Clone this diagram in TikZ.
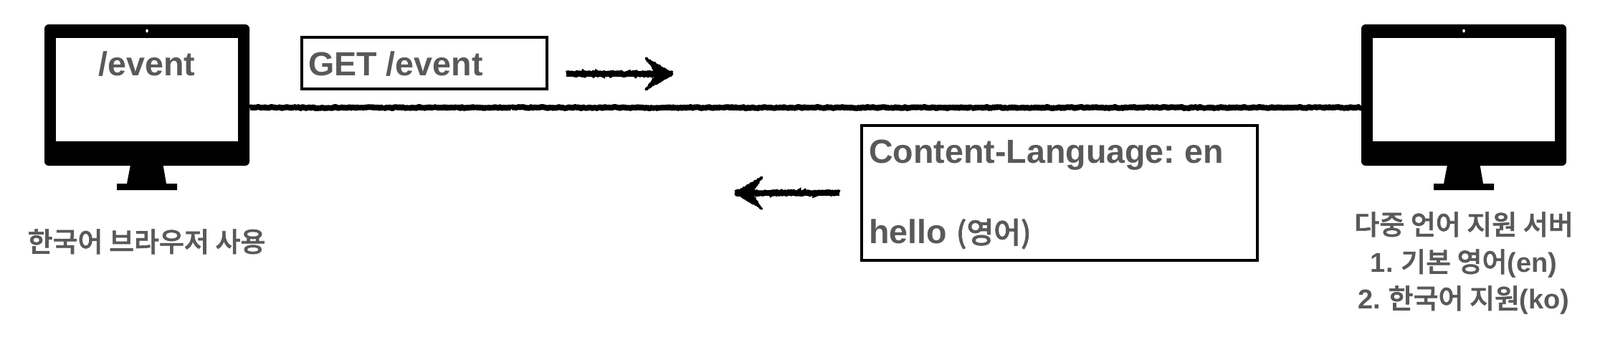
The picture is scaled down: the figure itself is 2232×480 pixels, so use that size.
\documentclass[tikz,border=0pt]{standalone}
\usepackage{fontspec}
\setmainfont{Liberation Sans}
\newfontfamily\kr{Noto Sans CJK KR}[BoldFont={Noto Sans CJK KR Medium},BoldFeatures={FakeBold=1.6}]
\frenchspacing
\usetikzlibrary{arrows.meta,decorations.pathmorphing,shapes.geometric}
\definecolor{ink}{HTML}{595959}
\tikzset{
  x=1pt,y=-1pt,
  monbody/.style={fill=black,rounded corners=6pt,inner sep=0pt,minimum width=286pt,minimum height=197pt},
  monscreen/.style={fill=white,inner sep=0pt,minimum width=254pt,minimum height=144pt},
  moncam/.style={fill=white,ellipse,inner sep=0pt,minimum width=3.5pt,minimum height=5pt},
  msgbox/.style={draw=black,line width=4.5pt,fill=white,inner sep=0pt},
  bigtxt/.style={text=ink,inner sep=0pt,anchor=base west,font=\fontsize{46.6}{50}\selectfont\bfseries},
  lbl/.style={text=ink,inner sep=0pt,anchor=base,font=\fontsize{38}{42}\selectfont\bfseries},
  rough/.style={decorate,decoration={random steps,segment length=1.6pt,amplitude=1pt}},
  wire/.style={draw=black,line width=8pt,line join=bevel,rough},
  sendarrow/.style={draw=black,line width=7pt,
    -{Stealth[length=37pt,width=44pt,inset=14pt]},
    postaction={draw=black,-,line width=8pt,rough}},
  roughhead/.style={fill=black,draw=black,line width=2.5pt,line join=round,rough},
}
\newcommand{\monitor}[2]{%
  \begin{scope}[shift={(#2,0)}]
    \node[monbody] (#1) at (143,132.5) {};
    \node[monscreen] (#1s) at (143,125) {};
    \node[moncam] (#1c) at (143,43) {};
    \fill[black] (120,230) -- (165.5,230) -- (170,256) -- (185,256) -- (185,265) -- (101,265) -- (101,256) -- (115,256) -- cycle;
  \end{scope}}
\begin{document}
\begin{tikzpicture}
  \useasboundingbox[fill=white] (0,0) rectangle (2232,480);
  \monitor{client}{62}
  \monitor{server}{1899}
  \node[bigtxt,anchor=base] (path) at (205,105) {/event};
  \node[msgbox,minimum width=342pt,minimum height=72pt] (req) at (592,88) {};
  \node[bigtxt] (reqtxt) at (430,105) {GET /event};
  \node[msgbox,minimum width=552pt,minimum height=188pt] (res) at (1478,269) {};
  \node[bigtxt] (restxta) at (1212,227) {Content-Language: en};
  \node[bigtxt] (restxtb) at (1212,339) {hello {\kr\fontsize{41}{50}\selectfont (영어)}};
  \node[lbl,anchor=base] (clientlbl) at (204.5,351) {\kr 한국어 브라우저 사용};
  \node[lbl,anchor=base] (serverlbl1) at (2042,327) {\kr 다중 언어 지원 서버};
  \node[lbl,anchor=base] (serverlbl2) at (2042,379) {1. {\kr 기본 영어}(en)};
  \node[lbl,anchor=base] (serverlbl3) at (2042,430) {2. {\kr 한국어 지원}(ko)};
  \draw[wire] ([yshift=-17.5pt]client.east) -- ([yshift=-17.5pt]server.west);
  \coordinate (reqa) at (790,103);
  \coordinate (reqb) at (938,103);
  \coordinate (resa) at (1171,269);
  \coordinate (resb) at (1026,269);
  \draw[sendarrow] (reqa) -- (reqb);
  \draw[sendarrow] (resa) -- (resb);
  \fill[roughhead] (reqb) -- ++(-37,-22) -- ++(16,22) -- ++(-16,22) -- cycle;
  \fill[roughhead] (resb) -- ++(37,-22) -- ++(-16,22) -- ++(16,22) -- cycle;
\end{tikzpicture}
\end{document}
